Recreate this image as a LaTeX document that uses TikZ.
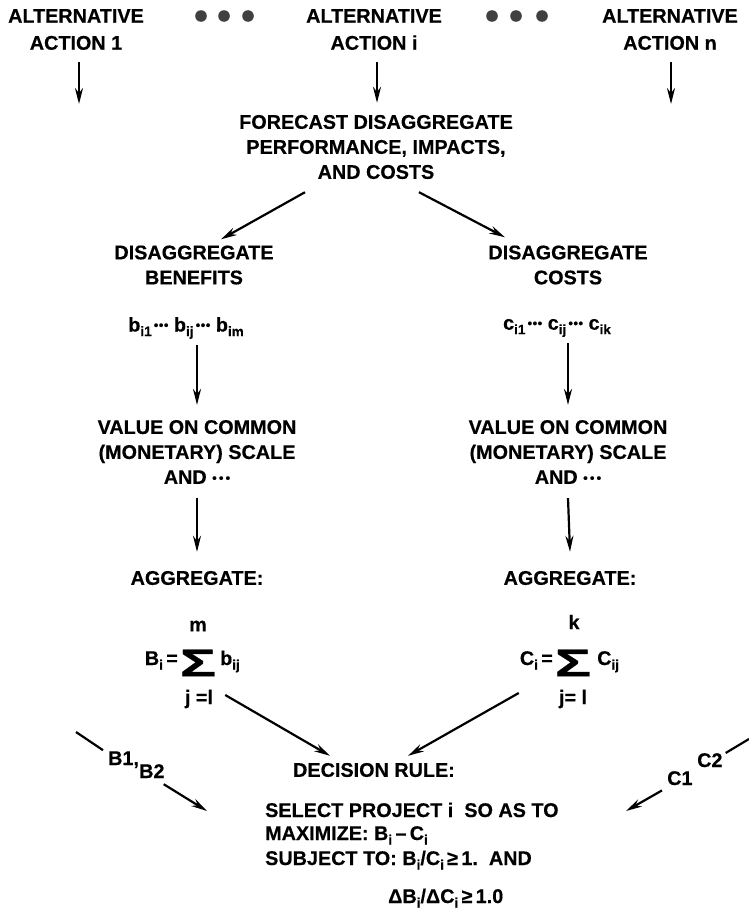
\documentclass[tikz,border=0pt]{standalone}
\usepackage{fontspec}
\setmainfont{Liberation Sans}[BoldFeatures={FakeBold=0.4}]
\usetikzlibrary{arrows.meta}
\newcommand{\sbs}[1]{\raisebox{-4.5pt}{\fontsize{13.5}{13.5}\selectfont #1}}
\newcommand{\bdots}{\raisebox{2pt}{\fontsize{13}{13}\selectfont\,\textbullet\kern0.5pt\textbullet\kern0.5pt\textbullet}}
\newcommand{\sbdots}{\raisebox{1.5pt}{\fontsize{13}{13}\selectfont\textbullet\,\textbullet\,\textbullet}}
\newcommand{\bigsig}{\scalebox{1.6}[1.02]{\fontsize{38}{38}\selectfont Σ}}
\begin{document}
\begin{tikzpicture}[x=1pt,y=-1pt,
  every node/.style={font=\fontsize{19.8}{25}\selectfont\bfseries, inner sep=0pt},
  blk/.style={align=center},
  arr/.style={line width=2.2pt,-{Stealth[length=16pt,width=8pt]}},
  ln/.style={line width=2.2pt},
  bigdot/.style={fill=black!75}]
\fill[white] (0,0) rectangle (749,918);
\useasboundingbox (0,0) rectangle (749,918);

% top row
\node[blk] (alt1) at (76,29.5) {ALTERNATIVE\\[2pt]ACTION 1};
\node[blk] (alti) at (374,29.5) {ALTERNATIVE\\[2pt]ACTION i};
\node[blk] (altn) at (670,29.5) {ALTERNATIVE\\[2pt]ACTION n};
\foreach \x in {201,224,248,492,516,542} \fill[bigdot] (\x,16) circle (5.8);

\node[blk] (fc) at (376,147) {FORECAST DISAGGREGATE\\PERFORMANCE, IMPACTS,\\AND COSTS};

\coordinate (e1) at (79,104);
\coordinate (en) at (671,104);
\draw[arr] ([shift={(3,12)}]alt1.south) -- (e1);
\draw[arr] ([shift={(1,12)}]altn.south) -- (en);
\draw[arr] ([shift={(3,12)}]alti.south) -- ([shift={(1,-12)}]fc.north);

% columns
\node[blk] (disB) at (194,265) {DISAGGREGATE\\BENEFITS};
\node[blk] (disC) at (568,265) {DISAGGREGATE\\COSTS};
\draw[arr] ([shift={(-71,13)}]fc.south) -- ([shift={(27,-6)}]disB.north);
\draw[arr] ([shift={(43,13)}]fc.south) -- ([shift={(-63,-8)}]disC.north);

\node (brow) at (186,328) {b\sbs{i1}\bdots\ b\sbs{ij}\bdots\ b\sbs{im}};
\node (crow) at (557,328) {c\sbs{i1}\bdots\ c\sbs{ij}\bdots\ c\sbs{ik}};

\node[blk] (valB) at (197,452) {VALUE ON COMMON\\(MONETARY) SCALE\\AND \sbdots};
\node[blk] (valC) at (568,452) {VALUE ON COMMON\\(MONETARY) SCALE\\AND \sbdots};
\draw[arr] (valB.north |- brow.south) ++(0,6) -- ([yshift=15pt]valB.north);
\draw[arr] (valC.north |- crow.south) ++(0,6) -- ([yshift=15pt]valC.north);

\node (aggB) at (197,578) {AGGREGATE:};
\node (aggC) at (570,578) {AGGREGATE:};
\draw[arr] ([yshift=-14pt]valB.south) -- ([yshift=19pt]aggB.north);
\draw[arr] ([yshift=-14pt]valC.south) -- ([yshift=19pt]aggC.north);

% formulas
\node (sigB) at (198,663) {\bigsig};
\node[anchor=base east] (Bi) at (178,665) {B\sbs{i}\,=};
\node[anchor=base west] (bij) at (220,665) {b\sbs{ij}};
\node (mB) at (198,626) {m};
\node (jB) at (199,699) {j =l};

\node (sigC) at (573,663) {\bigsig};
\node[anchor=base east] (Ci) at (553,665) {C\sbs{i}\,=};
\node[anchor=base west] (Cij) at (597,665) {C\sbs{ij}};
\node (kC) at (574,622) {k};
\node (jC) at (573,699) {j= l};

% decision
\node (dec) at (374,770) {DECISION RULE:};
\node[anchor=base west] (sel) at (265,817) {SELECT PROJECT i\ \ SO AS TO};
\node[anchor=base west] (maxi) at (265,840) {MAXIMIZE: B\sbs{i}\,–\,C\sbs{i}};
\node[anchor=base west] (subj) at (265,865) {SUBJECT TO: B\sbs{i}/C\sbs{i}\,≥\,1.\ \ AND};
\node[anchor=base west] (dlt) at (388,903) {ΔB\sbs{i}/ΔC\sbs{i}\,≥\,1.0};

\draw[arr] ([shift={(12,-4)}]jB.east) -- ([shift={(37,-7)}]dec.north west);
\draw[arr] ([shift={(-40,-6)}]jC.west) -- ([shift={(-47,-7)}]dec.north east);

% side inputs
\node[anchor=base west] (B1) at (108,765) {B1,};
\node[anchor=base west] (B2) at (139,778) {B2};
\coordinate (bl0) at (76,732);
\coordinate (bl1) at (207,811);
\draw[ln] (bl0) -- ([shift={(-5,-1)}]B1.north west);
\draw[arr] ([shift={(-1,6)}]B2.south east) -- (bl1);

\node[anchor=base west] (C2) at (697,767) {C2};
\node[anchor=base west] (C1) at (667,785) {C1};
\coordinate (cr0) at (749,739);
\coordinate (cr1) at (626,811);
\draw[ln] (cr0) -- ([shift={(3,0)}]C2.north east);
\draw[arr] ([shift={(-5,5)}]C1.south west) -- (cr1);
\end{tikzpicture}
\end{document}
